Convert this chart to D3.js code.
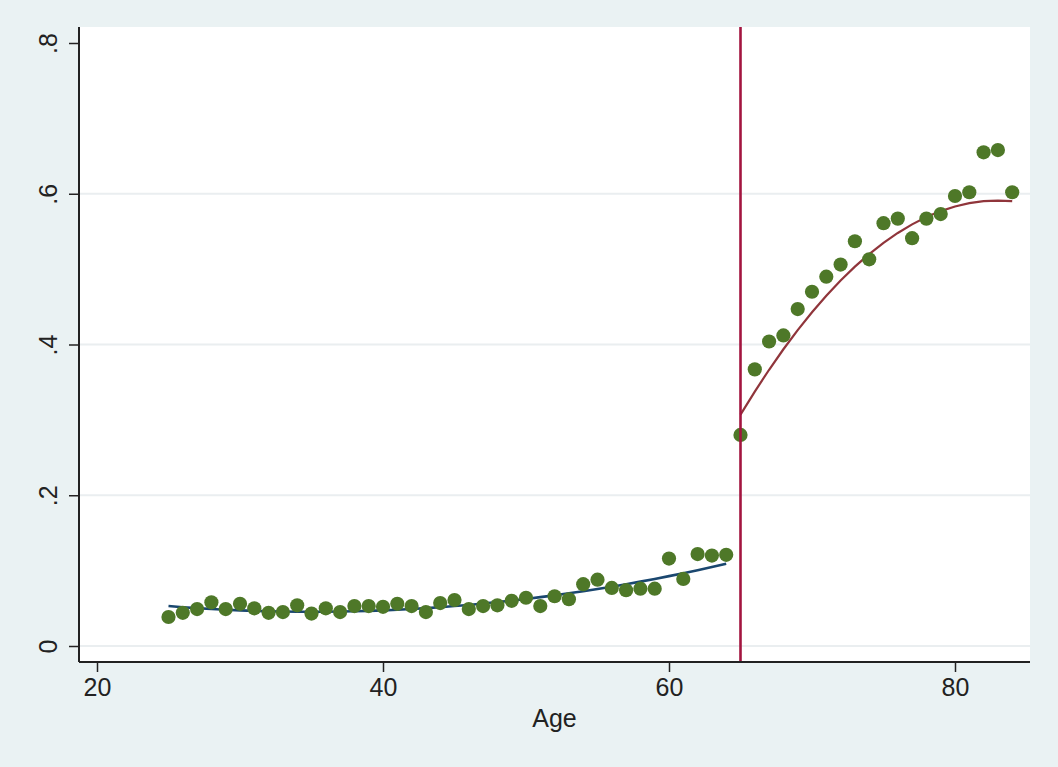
<!DOCTYPE html>
<html>
<head>
<meta charset="utf-8">
<script src="https://cdn.jsdelivr.net/npm/d3@7"></script>
<style>
  html, body { margin: 0; padding: 0; background: #eaf2f3; }
  svg { display: block; }
  text { font-family: "Liberation Sans", Arial, sans-serif; fill: #222; }
</style>
</head>
<body>
<svg id="chart" width="1058" height="767"></svg>
<script>
// ---- data ----
const agesLow = d3.range(25, 65);   // 25..64
const agesHigh = d3.range(65, 85);  // 65..84
const obsLow = [0.0385,0.044,0.049,0.058,0.049,0.056,0.050,0.044,0.045,0.054,
                0.043,0.050,0.045,0.053,0.053,0.052,0.056,0.053,0.045,0.057,
                0.061,0.049,0.053,0.054,0.060,0.064,0.053,0.066,0.062,0.082,
                0.088,0.077,0.074,0.076,0.076,0.116,0.089,0.122,0.120,0.121];
const obsHigh = [0.280,0.367,0.404,0.412,0.447,0.470,0.490,0.506,0.537,0.513,
                 0.561,0.567,0.541,0.567,0.573,0.597,0.602,0.655,0.658,0.602];
const fitLow = [0.0530,0.0515,0.0502,0.0491,0.0481,0.0473,0.0466,0.0461,0.0457,0.0455,
                0.0454,0.0455,0.0457,0.0461,0.0466,0.0473,0.0481,0.0491,0.0502,0.0515,
                0.0530,0.0545,0.0563,0.0582,0.0602,0.0624,0.0648,0.0672,0.0699,0.0727,
                0.0756,0.0787,0.0820,0.0854,0.0889,0.0927,0.0965,0.1005,0.1047,0.1090];
const fitHigh = [0.307,0.3375,0.3665,0.3937,0.4191,0.4428,0.4647,0.4849,0.5033,0.5200,
                 0.5349,0.5480,0.5594,0.5691,0.5770,0.5831,0.5875,0.5901,0.5910,0.5901];
const cutoff = 65;
const xTicks = [20, 40, 60, 80];
const yTicks = [0, 0.2, 0.4, 0.6, 0.8];
const yTickLabels = ["0", ".2", ".4", ".6", ".8"];
const xTitle = "Age";

// ---- layout ----
const plot = { left: 79, top: 27, right: 1030, bottom: 662 };
const svg = d3.select("#chart");

const x = d3.scaleLinear().domain([20, 80]).range([97, 955]);
const y = d3.scaleLinear().domain([0, 0.8]).range([646, 43]);

// plot region
svg.append("rect")
  .attr("x", plot.left).attr("y", plot.top)
  .attr("width", plot.right - plot.left).attr("height", plot.bottom - plot.top)
  .attr("fill", "#ffffff");

// gridlines (not at the top tick)
svg.append("g").selectAll("line")
  .data(yTicks.filter(t => t < 0.8))
  .join("line")
  .attr("x1", plot.left).attr("x2", plot.right)
  .attr("y1", d => y(d)).attr("y2", d => y(d))
  .attr("stroke", "#eaeef0").attr("stroke-width", 2);

// fitted lines
const line = d3.line().x(d => x(d[0])).y(d => y(d[1]));
svg.append("path")
  .datum(agesLow.map((a, i) => [a, fitLow[i]]))
  .attr("d", line).attr("fill", "none")
  .attr("stroke", "#1a476f").attr("stroke-width", 2.6);
svg.append("path")
  .datum(agesHigh.map((a, i) => [a, fitHigh[i]]))
  .attr("d", line).attr("fill", "none")
  .attr("stroke", "#90353b").attr("stroke-width", 2.2);

// points
const pts = agesLow.map((a, i) => [a, obsLow[i]]).concat(agesHigh.map((a, i) => [a, obsHigh[i]]));
svg.append("g").selectAll("circle")
  .data(pts)
  .join("circle")
  .attr("cx", d => x(d[0])).attr("cy", d => y(d[1]))
  .attr("r", 7.1)
  .attr("fill", "#4e7828");

// cutoff line
svg.append("line")
  .attr("x1", x(cutoff)).attr("x2", x(cutoff))
  .attr("y1", plot.top).attr("y2", plot.bottom)
  .attr("stroke", "#a3153f").attr("stroke-width", 2.6);

// x axis
const xAxis = svg.append("g")
  .attr("transform", `translate(0,${plot.bottom})`)
  .call(d3.axisBottom(x).tickValues(xTicks).tickSize(10).tickPadding(6).tickFormat(d3.format("d")));
xAxis.select(".domain").attr("d", `M${plot.left},0H${plot.right}`).attr("stroke", "#222").attr("stroke-width", 2);
xAxis.selectAll(".tick line").attr("stroke", "#222").attr("stroke-width", 1.5);
xAxis.selectAll(".tick text").style("font-size", "25px").attr("fill", "#222");

// y axis
const yAxis = svg.append("g")
  .attr("transform", `translate(${plot.left},0)`)
  .call(d3.axisLeft(y).tickValues(yTicks).tickSize(10)
        .tickFormat((d, i) => yTickLabels[i]));
yAxis.select(".domain").attr("d", `M0,${plot.top}V${plot.bottom}`).attr("stroke", "#222").attr("stroke-width", 2);
yAxis.selectAll(".tick line").attr("stroke", "#222").attr("stroke-width", 1.5);
yAxis.selectAll(".tick text")
  .style("font-size", "25px").attr("fill", "#222")
  .attr("x", null).attr("dy", null)
  .attr("text-anchor", "middle")
  .attr("transform", "translate(-22,0) rotate(-90)");

// x title
svg.append("text")
  .attr("x", (plot.left + plot.right) / 2 + 0).attr("y", 727)
  .attr("text-anchor", "middle")
  .style("font-size", "25px")
  .text(xTitle);
</script>
</body>
</html>
